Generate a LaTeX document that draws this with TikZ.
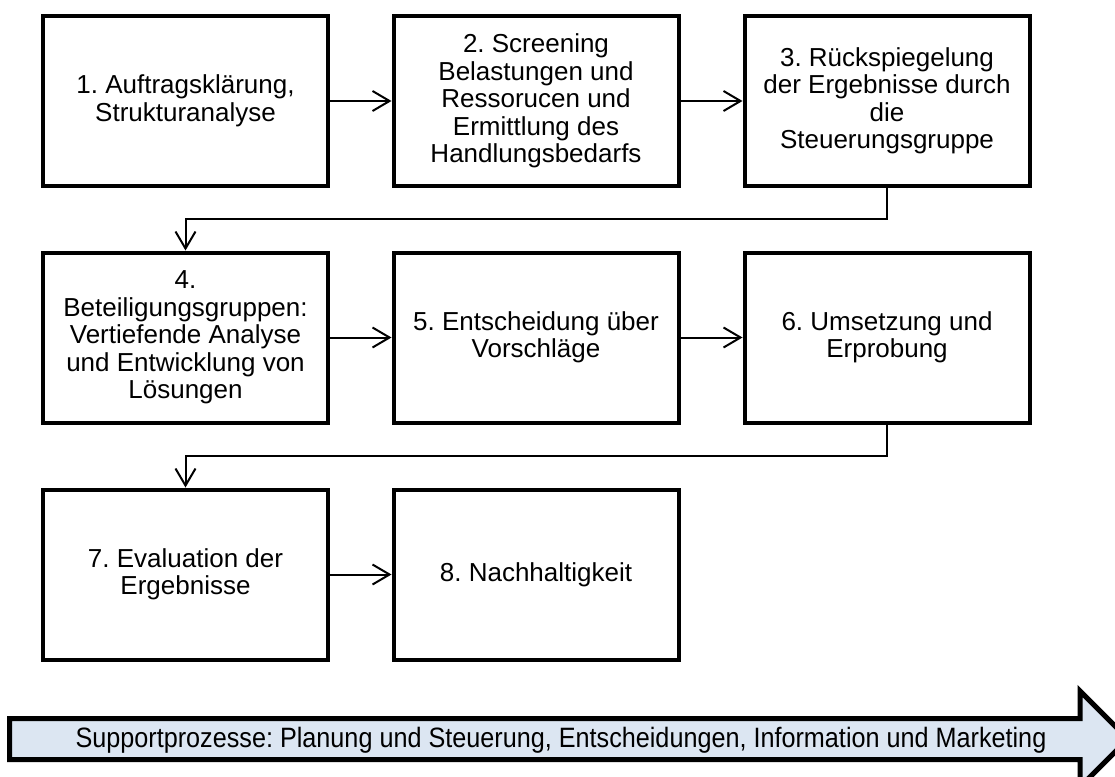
\documentclass[tikz,border=0pt]{standalone}
\usepackage{fontspec}
\setmainfont{Liberation Sans}
\usetikzlibrary{arrows.meta}
\frenchspacing

\begin{document}
\begin{tikzpicture}[x=1pt, y=1pt,
    every node/.style={font=\fontsize{26}{27.5}\selectfont},
    stepbox/.style={draw, line width=4pt, minimum width=285pt, minimum height=170pt, align=center, inner sep=0pt},
    conn/.style={line width=2pt, -{Straight Barb[length=17pt, width=20pt, line width=2pt]}}]
        % Frame
        \useasboundingbox (0,0) rectangle (1115,-776);

        % Row 1
        \node[stepbox] (s1) at (185.5,-101) {1. Auftragsklärung,\\Strukturanalyse};
        \node[stepbox] (s2) at (536,-101) {2. Screening\\Belastungen und\\Ressorucen und\\Ermittlung des\\Handlungsbedarfs};
        \node[stepbox] (s3) at (887,-101) {3. Rückspiegelung\\der Ergebnisse durch\\die\\Steuerungsgruppe};

        % Row 2
        \node[stepbox] (s4) at (185.5,-337.5) {4.\\Beteiligungsgruppen:\\Vertiefende Analyse\\und Entwicklung von\\Lösungen};
        \node[stepbox] (s5) at (536,-337.5) {5. Entscheidung über\\Vorschläge};
        \node[stepbox] (s6) at (887,-337.5) {6. Umsetzung und\\Erprobung};

        % Row 3
        \node[stepbox] (s7) at (185.5,-574.5) {7. Evaluation der\\Ergebnisse};
        \node[stepbox] (s8) at (536,-574.5) {8. Nachhaltigkeit};

        % Connectors
        \draw[conn] (s1) -- (s2);
        \draw[conn] (s2) -- (s3);
        \draw[conn] (s3.south) -- ++(0,-31) -| (s4.north);
        \draw[conn] (s4) -- (s5);
        \draw[conn] (s5) -- (s6);
        \draw[conn] (s6.south) -- ++(0,-31) -| (s7.north);
        \draw[conn] (s7) -- (s8);

        % Support arrow
        \filldraw[line width=5pt, fill={rgb,255:red,220;green,230;blue,242}]
            (9.5,-718.5) -- (1080,-718.5) -- (1080,-691) -- (1128,-739)
            -- (1080,-787) -- (1080,-759.5) -- (9.5,-759.5) -- cycle;
        \node[font=\fontsize{28}{30}\selectfont] (support) at (561,-740)
            {\scalebox{0.9}[1]{Supportprozesse: Planung und Steuerung, Entscheidungen, Information und Marketing}};
\end{tikzpicture}
\end{document}
